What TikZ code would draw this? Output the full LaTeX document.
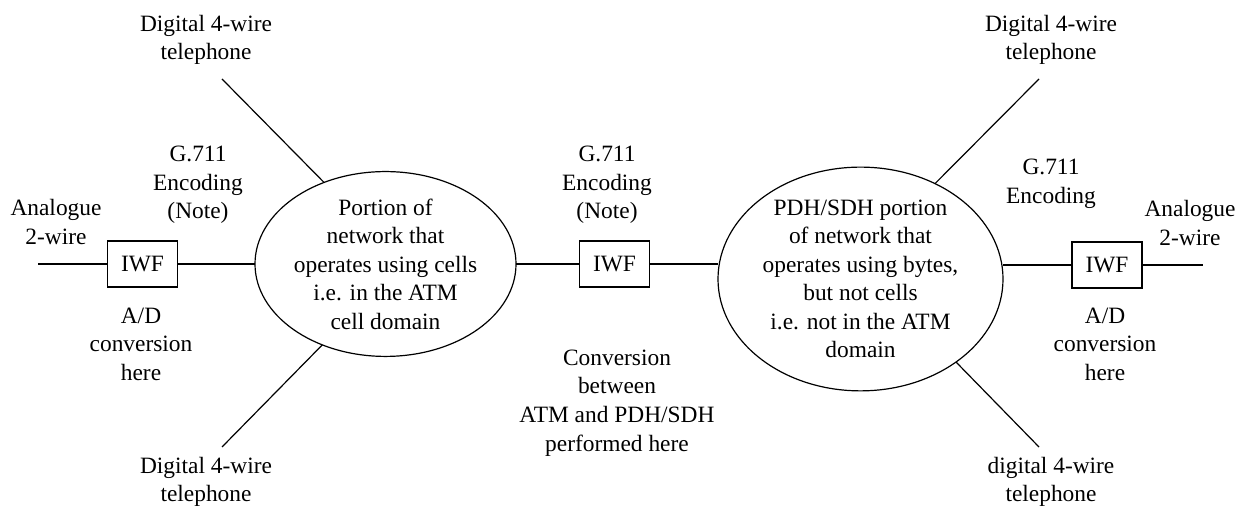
\documentclass[tikz,border=0pt]{standalone}
\usepackage{fontspec}
\setmainfont{Liberation Serif}
\usetikzlibrary{shapes.geometric}
\begin{document}
\begin{tikzpicture}[x=0.5pt,y=-0.5pt,
  every node/.style={font=\fontsize{11.7pt}{14.25pt}\selectfont, align=center, inner sep=0pt, outer sep=0pt},
  wire/.style={draw=black, line width=0.6pt},
  iwf/.style={draw=black, line width=0.6pt, rectangle, minimum width=35pt, minimum height=23pt},
  net/.style={draw=black, line width=0.6pt, ellipse},
  lbl/.style={}]
\useasboundingbox (0,0) rectangle (1237,506);

% network ellipses
\node[net, minimum width=130.5pt, minimum height=89.5pt] (L) at (385.5,264)
  {Portion of\\network that\\operates using cells\\i.e. in the ATM\\cell domain};
\node[net, minimum width=142.5pt, minimum height=105pt] (R) at (860.5,279)
  {PDH/SDH portion\\of network that\\operates using bytes,\\but not cells\\i.e. not in the ATM\\domain};

% IWF boxes
\node[iwf] (I1) at (142.5,264) {IWF};
\node[iwf] (I2) at (614.5,264) {IWF};
\node[iwf] (I3) at (1107,265) {IWF};

% free ends
\coordinate (a1) at (38,264);
\coordinate (a2) at (1203,265);
\coordinate (tl) at (222,79);
\coordinate (bl) at (222,447);
\coordinate (tr) at (1039,79);
\coordinate (br) at (1039,447);

% connectors
\draw[wire] (a1) -- (I1.west);
\draw[wire] (I1.east) -- (L.west);
\draw[wire] (L.east) -- (I2.west);
\draw[wire] (I2.east) -- (R.west |- I2.east);
\draw[wire] (R.east |- I3.west) -- (I3.west);
\draw[wire] (I3.east) -- (a2);
\draw[wire] (L.127) -- (tl);
\draw[wire] (L.-128) -- (bl);
\draw[wire] (R.52) -- (tr);
\draw[wire] (R.-41) -- (br);

% labels
\node[lbl] (tlt) at (206,40) {Digital 4-wire\\telephone};
\node[lbl] (blt) at (206,482) {Digital 4-wire\\telephone};
\node[lbl] (trt) at (1051,40) {Digital 4-wire\\telephone};
\node[lbl] (brt) at (1051,482) {digital 4-wire\\telephone};
\node[lbl] (g1) at (198,185) {G.711\\Encoding\\(Note)};
\node[lbl] (g2) at (607,185) {G.711\\Encoding\\(Note)};
\node[lbl] (g3) at (1051,184) {G.711\\Encoding};
\node[lbl] (an1) at (56,222) {Analogue\\2-wire};
\node[lbl] (an2) at (1190,223) {Analogue\\2-wire};
\node[lbl] (ad1) at (141,344) {A/D\\conversion\\here};
\node[lbl] (ad2) at (1105,344) {A/D\\conversion\\here};
\node[lbl] (conv) at (617,403) {Conversion\\between\\ATM and PDH/SDH\\performed here};
\end{tikzpicture}
\end{document}
